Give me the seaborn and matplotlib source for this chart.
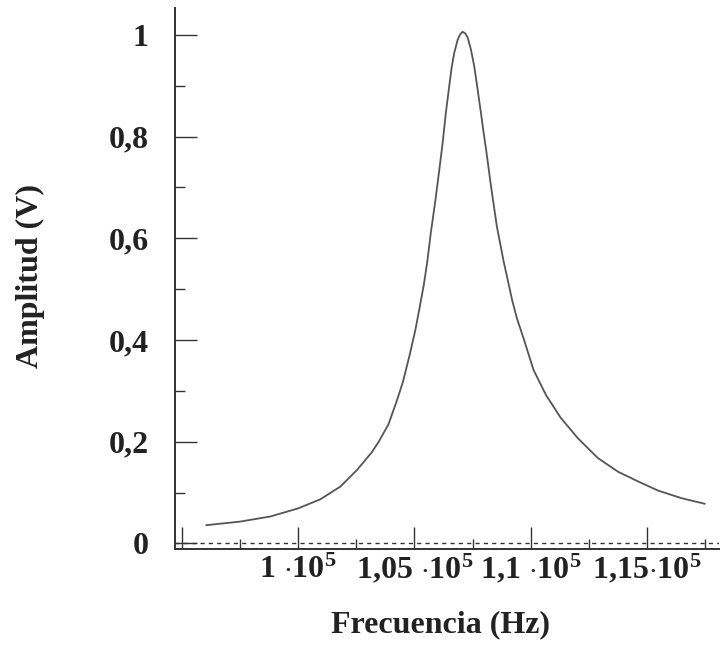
import numpy as np
import matplotlib
matplotlib.use("Agg")
import matplotlib.pyplot as plt
from matplotlib.ticker import MultipleLocator, FixedLocator
import seaborn as sns
import pandas as pd

# resonance curve
freq_hz = [96050, 97500, 98800, 100000, 100960, 101820, 102540, 103160, 103450,
           103880, 104230, 104500, 104790, 105040, 105230, 105400, 105550, 105700,
           105900, 106060, 106207, 106349, 106491, 106595, 106707, 106853, 106960,
           107069, 107180, 107284, 107427, 107569, 107716, 107858, 107970, 108073,
           108290, 108542, 108830, 109200, 109400, 109690, 110118, 110650, 111270,
           112020, 112880, 113750, 114610, 115470, 116480, 117480]
amp_v = [0.036, 0.043, 0.053, 0.069, 0.087, 0.112, 0.145, 0.179, 0.199,
         0.234, 0.279, 0.317, 0.370, 0.420, 0.466, 0.508, 0.554, 0.610,
         0.675, 0.732, 0.786, 0.847, 0.898, 0.935, 0.964, 0.990, 1.001,
         1.006, 1.003, 0.995, 0.971, 0.938, 0.892, 0.846, 0.808, 0.776,
         0.702, 0.623, 0.555, 0.478, 0.443, 0.403, 0.341, 0.292, 0.248,
         0.207, 0.168, 0.141, 0.122, 0.104, 0.089, 0.078]

x_ticks = [100000, 105000, 110000, 115000]
x_ticklabels = [r"1 $\cdot$$10^{5}$", r"1,05 $\cdot$$10^{5}$", r"1,1 $\cdot$$10^{5}$", r"1,15$\cdot$$10^{5}$"]
y_ticks = [0, 0.2, 0.4, 0.6, 0.8, 1.0]
y_ticklabels = ["0", "0,2", "0,4", "0,6", "0,8", "1"]

sns.set_style("ticks")
plt.rcParams['font.family'] = ['Liberation Serif', 'DejaVu Serif']
plt.rcParams['font.weight'] = 'bold'
plt.rcParams['mathtext.fontset'] = 'custom'
plt.rcParams['mathtext.rm'] = 'Liberation Serif:bold'
plt.rcParams['mathtext.it'] = 'Liberation Serif:bold'
plt.rcParams['mathtext.bf'] = 'Liberation Serif:bold'

df = pd.DataFrame({"f": freq_hz, "a": amp_v})

fig = plt.figure(figsize=(7.21, 6.48), dpi=100)
ax = fig.add_axes([0.2427, 0.1528, 0.755, 0.835])

sns.lineplot(data=df, x="f", y="a", ax=ax, color="#555555", linewidth=1.3)
ax.axhline(0, color="#333333", linewidth=1.0, linestyle=(0, (3, 3)))

ax.set_xlim(94710, 118100)
ax.set_ylim(-0.0108, 1.053)

ax.xaxis.set_major_locator(FixedLocator([95000] + x_ticks))
ax.set_xticklabels([""] + x_ticklabels)
ax.xaxis.set_minor_locator(FixedLocator([97500, 102500, 107500, 112500, 117500]))
ax.yaxis.set_major_locator(FixedLocator(y_ticks))
ax.set_yticklabels(y_ticklabels)
ax.yaxis.set_minor_locator(MultipleLocator(0.1))

for side in ["top", "right"]:
    ax.spines[side].set_visible(False)
for side in ["left", "bottom"]:
    ax.spines[side].set_color("#333333")
    ax.spines[side].set_linewidth(1.4)

ax.tick_params(axis="both", which="major", direction="in", length=16, width=1.0,
               color="#333333", labelsize=23, labelcolor="#222222")
ax.tick_params(axis="both", which="minor", direction="in", length=7, width=1.0,
               color="#333333")
ax.tick_params(axis="y", which="major", pad=19)
ax.tick_params(axis="x", which="major", pad=21)
for lbl in ax.get_xticklabels():
    lbl.set_verticalalignment("baseline")

ax.set_xlabel("Frecuencia (Hz)", fontsize=23, fontweight="bold", color="#222222")
ax.set_ylabel("Amplitud (V)", fontsize=23, fontweight="bold", color="#222222")
ax.xaxis.set_label_coords(0.487, -0.113)
ax.yaxis.set_label_coords(-0.239, 0.505)

fig.savefig("out.png", dpi=100)
